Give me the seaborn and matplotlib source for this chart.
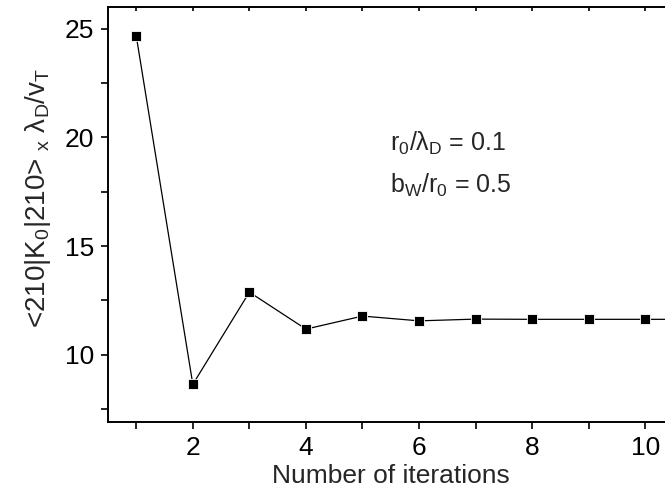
import matplotlib
matplotlib.use("Agg")
import matplotlib.pyplot as plt
import seaborn as sns
import pandas as pd
from matplotlib.ticker import MultipleLocator

iterations = [1, 2, 3, 4, 5, 6, 7, 8, 9, 10, 11]
values = [24.66, 8.64, 12.88, 11.18, 11.78, 11.56, 11.64, 11.63, 11.63, 11.63, 11.63]
xticks = [2, 4, 6, 8, 10]
yticks = [10, 15, 20, 25]

sns.set_theme(style="ticks")
plt.rcParams['font.family'] = ['Liberation Sans', 'DejaVu Sans']
plt.rcParams['mathtext.fontset'] = 'custom'
plt.rcParams['mathtext.rm'] = 'Liberation Sans'
plt.rcParams['mathtext.it'] = 'Liberation Sans'

df = pd.DataFrame({"it": iterations, "val": values})

fig = plt.figure(figsize=(6.65, 4.88), dpi=100)
ax = fig.add_axes([108/665, 1-421.7/488, (673.5-108)/665, (421.7-7)/488])

sns.lineplot(data=df, x="it", y="val", ax=ax, color="black", linewidth=0.9,
             marker="s", markersize=7.5, markeredgecolor="white",
             markeredgewidth=0.6, markerfacecolor="black", clip_on=True)

ax.set_xlim(0.5, 10.5)
ax.set_ylim(6.92, 26.0)
ax.set_xticks(xticks)
ax.set_yticks(yticks)
ax.xaxis.set_minor_locator(MultipleLocator(1))
ax.yaxis.set_minor_locator(MultipleLocator(2.5))

for s in ax.spines.values():
    s.set_linewidth(1.4)
    s.set_color("black")

ax.tick_params(axis="both", which="both", direction="out", length=5, width=1.2,
               labelsize=19, color="black", labelcolor="black", pad=5)
secx = ax.secondary_xaxis('top')
secx.set_xticks(list(range(1, 11)))
secx.tick_params(direction="in", length=3, width=1.2, labeltop=False, color="black")
secx.spines['top'].set_visible(False)
ax.tick_params(axis="x", which="both", top=False)

ax.set_xlabel("Number of iterations", fontsize=19, labelpad=3)
ax.set_ylabel(r"<210|K$_\mathrm{0}$|210> $_\mathrm{x}$ λ$_\mathrm{D}$/v$_\mathrm{T}$",
              fontsize=20)
ax.yaxis.set_label_coords(-0.098, 0.54)

ax.text(5.48, 19.74, r"r$_\mathrm{0}$/λ$_\mathrm{D}$ = 0.1", fontsize=18, va="center", ha="left")
ax.text(5.48, 17.8, r"b$_\mathrm{W}$/r$_\mathrm{0}$ = 0.5", fontsize=18, va="center", ha="left")

fig.savefig("out.png", dpi=100)
